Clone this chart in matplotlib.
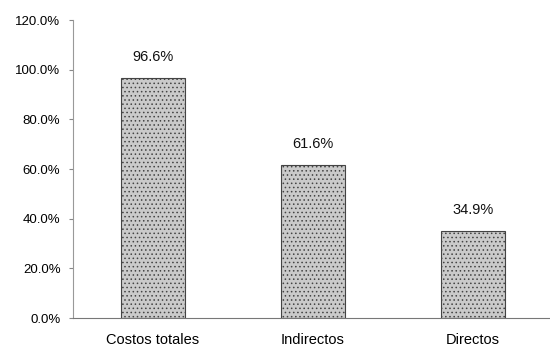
import matplotlib
matplotlib.use("Agg")
import matplotlib.pyplot as plt

categories = ["Costos totales", "Indirectos", "Directos"]
values = [96.6, 61.6, 34.9]
yticks = [0, 20, 40, 60, 80, 100, 120]
ytick_labels = ["0.0%", "20.0%", "40.0%", "60.0%", "80.0%", "100.0%", "120.0%"]

plt.rcParams['font.family'] = ['Liberation Sans', 'DejaVu Sans']
plt.rcParams['hatch.color'] = '#8f8f8f'
plt.rcParams['hatch.linewidth'] = 0.6
fig = plt.figure(figsize=(5.5, 3.48), dpi=100)
ax = fig.add_axes([0.1327, 0.0862, 0.8727, 0.8563])

x = range(len(categories))
bars = ax.bar(x, values, width=0.4, color="#cacaca", edgecolor="#444444",
              linewidth=0.8, hatch="....")
for xi, v in zip(x, values):
    ax.annotate(f"{v:.1f}%", (xi, v), xytext=(0, 10), textcoords="offset points",
                ha="center", va="bottom", fontsize=10.5, color="#111111")

ax.set_xlim(-0.5, 2.5)
ax.set_ylim(0, 120)
ax.set_yticks(yticks)
ax.set_yticklabels(ytick_labels, fontsize=9.5)
ax.set_xticks(list(x))
ax.set_xticklabels(categories, fontsize=10.5)
ax.tick_params(axis="x", length=0, pad=11)
ax.tick_params(axis="y", length=3, color="#888888", pad=6)
for s in ["top", "right"]:
    ax.spines[s].set_visible(False)
ax.spines["left"].set_color("#999999")
ax.spines["left"].set_linewidth(0.8)
ax.spines["bottom"].set_color("#777777")
ax.spines["bottom"].set_linestyle((0, (4, 1)))
ax.spines["bottom"].set_linewidth(0.8)

fig.savefig("out.png", dpi=100)
